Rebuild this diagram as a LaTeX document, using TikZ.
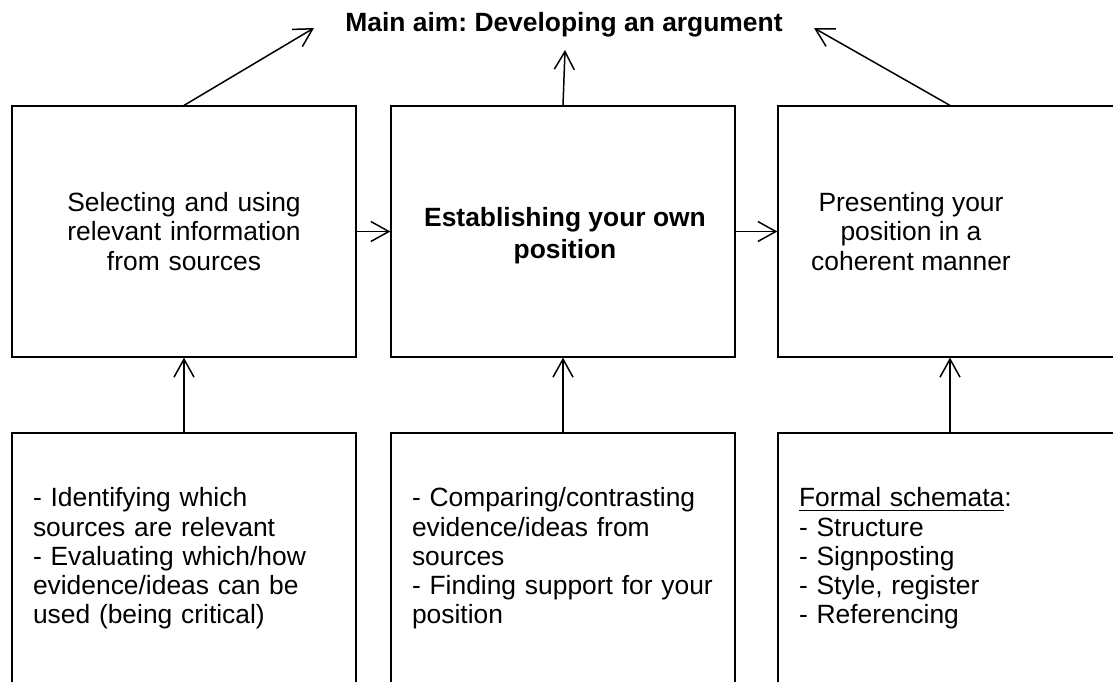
\documentclass[tikz,border=0pt]{standalone}
\usepackage{fontspec}
\setmainfont{Liberation Sans}
\usetikzlibrary{arrows.meta}
\frenchspacing

\tikzset{
	box/.style={draw, line width=0.6pt, minimum width=172pt, minimum height=125.5pt,
		inner xsep=10.5pt, inner ysep=0pt, text width=151pt},
	topbox/.style={box, align=center},
	subbox/.style={box, align=left},
	link/.style={line width=0.75pt, -{Straight Barb[length=9pt, width=10pt, line width=0.75pt]}}
}

\begin{document}
\begin{tikzpicture}[x=0.5pt, y=-0.5pt, font=\fontsize{13.2}{14.6}\selectfont]
		\useasboundingbox (0,0) rectangle (1113,681);
		\clip (0,0) rectangle (1113,681);

		\node[font=\fontsize{13.2}{14.6}\selectfont\bfseries] (aim) at (564,25) {Main aim: Developing an argument};

		\node[topbox] (select) at (184,231.5) {Selecting and using\\relevant information\\from sources};
		\node[topbox] (own) at (563,231.5) {};
		\node[align=center, inner sep=0pt, font=\fontsize{13.2}{16}\selectfont\bfseries] (owntext) at (565,236) {Establishing your own\\position};
		\node[topbox] (present) at (950,231.5) {};
		\node[align=center, inner sep=0pt] (presenttext) at (911,231.5) {Presenting your\\position in a\\coherent manner};

		\node[subbox] (identify) at (184,558.5) {- Identifying which\\sources are relevant\\- Evaluating which/how\\evidence/ideas can be\\used (being critical)};
		\node[subbox] (compare) at (563,558.5) {- Comparing/contrasting\\evidence/ideas from\\sources\\- Finding support for your\\position};
		\node[subbox] (schemata) at (950,558.5) {\underline{Formal schemata}:\\- Structure\\- Signposting\\- Style, register\\- Referencing};

		\coordinate (aimleft) at (314,28);
		\coordinate (aimmid) at (565,50);
		\coordinate (aimright) at (814,28);

		\draw[link] (select.north) -- (aimleft);
		\draw[link] (own.north) -- (aimmid);
		\draw[link] (present.north) -- (aimright);

		\draw[link] (select.east) -- (own.west);
		\draw[link] (own.east) -- (present.west);

		\draw[link] (identify.north) -- (select.south);
		\draw[link] (compare.north) -- (own.south);
		\draw[link] (schemata.north) -- (present.south);
	\end{tikzpicture}
\end{document}
